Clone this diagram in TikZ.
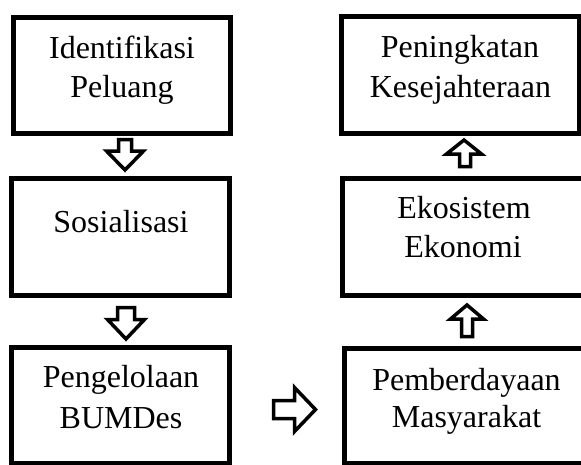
\documentclass[tikz,border=0pt]{standalone}
\usepackage{fontspec}
\setmainfont{Liberation Serif}
\begin{document}
\begin{tikzpicture}[x=1pt,y=-1pt,
  box/.style={draw=black,line width=5pt,fill=white,inner sep=0pt},
  lbl/.style={anchor=base,inner sep=0pt,font=\fontsize{32}{38}\selectfont},
  blockarrow/.style={draw=black,line width=3.5pt,fill=white,line join=miter}]
\useasboundingbox (0,0) rectangle (581,464);
% boxes
\node[box,minimum width=217pt,minimum height=116.5pt] (b1) at (121.5,75.25) {};
\node[box,minimum width=217.5pt,minimum height=116.5pt] (b2) at (120.25,236.75) {};
\node[box,minimum width=218.5pt,minimum height=115.5pt] (b3) at (120.25,405.25) {};
\node[box,minimum width=238pt,minimum height=117.5pt] (b4) at (460,74.75) {};
\node[box,minimum width=243pt,minimum height=116.5pt] (b5) at (463.5,236.75) {};
\node[box,minimum width=248pt,minimum height=115pt] (b6) at (468,405.5) {};
% texts
\node[lbl] (t1a) at (122,58) {Identifikasi};
\node[lbl] (t1b) at (122,97) {Peluang};
\node[lbl] (t2a) at (121,232) {Sosialisasi};
\node[lbl] (t3a) at (121,387) {Pengelolaan};
\node[lbl] (t3b) at (121,428) {BUMDes};
\node[lbl] (t4a) at (460,57) {Peningkatan};
\node[lbl] (t4b) at (460.5,97) {Kesejahteraan};
\node[lbl] (t5a) at (464,218) {Ekosistem};
\node[lbl] (t5b) at (463,257) {Ekonomi};
\node[lbl] (t6a) at (466.5,390) {Pemberdayaan};
\node[lbl] (t6b) at (466.5,427) {Masyarakat};
% block arrows
% down 1 (b1 -> b2)
\draw[blockarrow] (118.5,139.5) -- (131.5,139.5) -- (131.5,151) -- (143.5,151)
  -- (125,170) -- (106.5,151) -- (118.5,151) -- cycle;
% down 2 (b2 -> b3)
\draw[blockarrow] (117.5,307.5) -- (134.5,307.5) -- (134.5,319.5) -- (144.5,319.5)
  -- (126,339) -- (107.5,319.5) -- (117.5,319.5) -- cycle;
% right (b3 -> b6)
\draw[blockarrow] (273.5,400.5) -- (294.5,400.5) -- (294.5,387.5) -- (315.5,409.5)
  -- (294.5,431.5) -- (294.5,418.5) -- (273.5,418.5) -- cycle;
% up 2 (b6 -> b5)
\draw[blockarrow] (461.5,336.5) -- (472.5,336.5) -- (472.5,319) -- (483.5,319)
  -- (467,305) -- (450.5,319) -- (461.5,319) -- cycle;
% up 1 (b5 -> b4)
\draw[blockarrow] (459.5,166.5) -- (470.5,166.5) -- (470.5,154) -- (481.5,154)
  -- (464,140) -- (446.5,154) -- (459.5,154) -- cycle;
\end{tikzpicture}
\end{document}
